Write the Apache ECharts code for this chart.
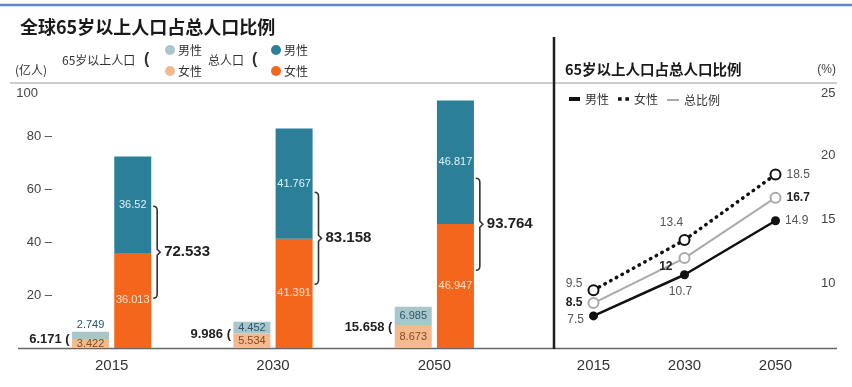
<!DOCTYPE html>
<html>
<head>
<meta charset="utf-8">
<script src="https://cdn.jsdelivr.net/npm/echarts@6/dist/echarts.min.js"></script>
<style>html,body{margin:0;padding:0;background:#fff;}#c{width:852px;height:387px;}</style>
</head>
<body>
<div id="c"></div>
<script>
// ---- data ----
const years = ['2015', '2030', '2050'];
const oldMale = [2.749, 4.452, 6.985];      // 65岁以上人口 男性 (亿人)
const oldFemale = [3.422, 5.534, 8.673];    // 65岁以上人口 女性
const totalMale = [36.52, 41.767, 46.817];  // 总人口 男性
const totalFemale = [36.013, 41.391, 46.947]; // 总人口 女性
const ratioMale = [7.5, 10.7, 14.9];        // 比例 男性 (%)
const ratioFemale = [9.5, 13.4, 18.5];      // 比例 女性
const ratioTotal = [8.5, 12, 16.7];         // 总比例
const leftTicks = [0, 20, 40, 60, 80, 100];
const rightTicks = [5, 10, 15, 20, 25];

const FONT = 'Arial, "Liberation Sans", "Noto Sans CJK SC", sans-serif';
const CJK = '"Noto Sans CJK SC", "Liberation Sans", sans-serif';

const oldSum = years.map((y, i) => +(oldMale[i] + oldFemale[i]).toFixed(3));
const allSum = years.map((y, i) => +(totalMale[i] + totalFemale[i]).toFixed(3));
const annot = years.map((y, i) => [i, oldSum[i], allSum[i]]);

const chart = echarts.init(document.getElementById('c'), null, {renderer: 'canvas'});

const ratioPosMale = [{position: 'left', offset: [0, 4]}, {position: 'bottom', offset: [-4, 1]}, {position: 'right'}];
const ratioPosFemale = [{position: 'left', offset: [0, -6]}, {position: 'top', offset: [-13, 0]}, {position: 'right'}];
const ratioPosTotal = [{position: 'left'}, {position: 'left', offset: [-1, 9]}, {position: 'right'}];

function withLabels(arr, pos) {
  return arr.map((v, i) => ({value: v, label: pos[i]}));
}

const option = {
  animation: false,
  textStyle: {fontFamily: FONT},
  title: {
    text: '全球65岁以上人口占总人口比例',
    left: 15, top: 13,
    textStyle: {fontFamily: CJK, fontSize: 18, fontWeight: 'bold', color: '#1a1a1a'}
  },
  legend: [
    {
      data: ['65岁以上人口男性', '65岁以上人口女性'],
      orient: 'vertical', left: 160, top: 39, itemGap: 9,
      icon: 'circle', itemWidth: 10, itemHeight: 10,
      selectedMode: false,
      formatter: n => n.slice(-2),
      textStyle: {fontFamily: CJK, fontSize: 12, color: '#333', padding: [0, 0, 0, -2]}
    },
    {
      data: ['总人口男性', '总人口女性'],
      orient: 'vertical', left: 266, top: 39, itemGap: 9,
      icon: 'circle', itemWidth: 10, itemHeight: 10,
      selectedMode: false,
      formatter: n => n.slice(-2),
      textStyle: {fontFamily: CJK, fontSize: 12, color: '#333', padding: [0, 0, 0, -2]}
    },
    {
      data: [
        {name: '男性', icon: 'rect', itemStyle: {color: '#111'}},
        {name: '女性', icon: 'path://M0,0h4v4h-4z M8,0h4v4h-4z', itemStyle: {color: '#111'}}
      ],
      left: 564, top: 88, itemWidth: 11, itemHeight: 4, itemGap: 9,
      selectedMode: false,
      textStyle: {fontFamily: CJK, fontSize: 12, color: '#333'}
    },
    {
      data: [{name: '总比例', icon: 'rect', itemStyle: {color: '#aaa'}}],
      left: 662, top: 89, itemWidth: 12, itemHeight: 2,
      selectedMode: false,
      textStyle: {fontFamily: CJK, fontSize: 12, color: '#333'}
    }
  ],
  grid: [
    {left: 31, right: 337, top: 84, bottom: 39},
    {left: 548, right: 31, top: 91, bottom: 39}
  ],
  xAxis: [
    {
      type: 'category', gridIndex: 0, data: years,
      axisLine: {show: false}, axisTick: {show: false},
      axisLabel: {fontSize: 15, color: '#333', margin: 10}
    },
    {
      type: 'category', gridIndex: 1, data: years,
      axisLine: {show: false}, axisTick: {show: false},
      axisLabel: {fontSize: 15, color: '#333', margin: 10}
    }
  ],
  yAxis: [
    {
      type: 'value', gridIndex: 0, min: leftTicks[0], max: leftTicks[leftTicks.length - 1], interval: 20,
      splitLine: {show: false}, axisLine: {show: false}, axisTick: {show: false},
      axisLabel: {
        align: 'right', margin: -21, fontSize: 13, color: '#444',
        formatter: v => v === 0 ? '' : (v === 100 ? '{t|100}' : v + ' –'),
        rich: {t: {fontSize: 13, color: '#444', padding: [18, 14, 0, 0]}}
      }
    },
    {
      type: 'value', gridIndex: 1, position: 'right',
      min: rightTicks[0], max: rightTicks[rightTicks.length - 1], interval: 5,
      splitLine: {show: false}, axisLine: {show: false}, axisTick: {show: false},
      axisLabel: {
        margin: 0, align: 'left', fontSize: 13, color: '#444',
        formatter: v => v === 5 ? '' : (v === 25 ? '{t|25}' : String(v)),
        rich: {t: {fontSize: 13, color: '#444', padding: [5, 0, 0, 0]}}
      }
    }
  ],
  graphic: [
    {type: 'line', shape: {x1: 0, y1: 5, x2: 852, y2: 5}, style: {stroke: '#5b87c0', lineWidth: 2.5}, silent: true},
    {type: 'line', shape: {x1: 10, y1: 83, x2: 837, y2: 83}, style: {stroke: '#bdbdbd', lineWidth: 1.5}, silent: true},
    {type: 'line', shape: {x1: 18, y1: 348.5, x2: 837, y2: 348.5}, style: {stroke: '#666', lineWidth: 1.5}, silent: true},
    {type: 'line', shape: {x1: 554, y1: 37, x2: 554, y2: 349}, style: {stroke: '#1e1e1e', lineWidth: 2.5}, silent: true},
    {type: 'text', x: 15, y: 70, style: {text: '(亿人)', font: '12px ' + CJK, fill: '#333', verticalAlign: 'middle'}},
    {type: 'text', x: 62, y: 60, style: {text: '65岁以上人口', font: '12px ' + CJK, fill: '#333', verticalAlign: 'middle'}},
    {type: 'text', x: 144, y: 60, style: {text: '(', font: 'bold 16px ' + FONT, fill: '#333', verticalAlign: 'middle'}},
    {type: 'text', x: 208, y: 60, style: {text: '总人口', font: '12px ' + CJK, fill: '#333', verticalAlign: 'middle'}},
    {type: 'text', x: 252, y: 60, style: {text: '(', font: 'bold 16px ' + FONT, fill: '#333', verticalAlign: 'middle'}},
    {type: 'text', x: 565, y: 69, style: {text: '65岁以上人口占总人口比例', font: 'bold 14.5px ' + CJK, fill: '#1a1a1a', verticalAlign: 'middle'}},
    {type: 'text', x: 836, y: 70, style: {text: '(%)', font: '12px ' + FONT, fill: '#444', align: 'right', verticalAlign: 'middle'}}
  ],
  series: [
    {
      name: '65岁以上人口女性', type: 'bar', stack: 'old', xAxisIndex: 0, yAxisIndex: 0,
      barWidth: 37, barGap: '14%', data: oldFemale,
      itemStyle: {color: '#f3b98f'},
      label: {show: true, position: 'inside', fontSize: 11, color: '#8c4a1c'}
    },
    {
      name: '65岁以上人口男性', type: 'bar', stack: 'old', xAxisIndex: 0, yAxisIndex: 0,
      barWidth: 37, barGap: '14%',
      data: oldMale.map((v, i) => i === 0 ? {value: v, label: {position: 'top', distance: 1}} : v),
      itemStyle: {color: '#a9c6cb'},
      label: {show: true, position: 'inside', fontSize: 11, color: '#2c5670'}
    },
    {
      name: '总人口女性', type: 'bar', stack: 'all', xAxisIndex: 0, yAxisIndex: 0,
      barWidth: 37, barGap: '14%', data: totalFemale,
      itemStyle: {color: '#f4661b'},
      label: {show: true, position: 'inside', fontSize: 11, color: '#fde3d2'}
    },
    {
      name: '总人口男性', type: 'bar', stack: 'all', xAxisIndex: 0, yAxisIndex: 0,
      barWidth: 37, barGap: '14%', data: totalMale,
      itemStyle: {color: '#2b7f99'},
      label: {show: true, position: 'inside', fontSize: 11, color: '#dff2f7'}
    },
    {
      name: 'annot', type: 'custom', xAxisIndex: 0, yAxisIndex: 0, clip: false, silent: true, z: 5,
      encode: {x: 0, y: 1},
      data: annot,
      renderItem: function (params, api) {
        const idx = api.value(0);
        const pOld = api.coord([idx, api.value(1) / 2]);
        const pAll = api.coord([idx, api.value(2) / 2]);
        const cx = pOld[0];
        const bx = cx + 45.5;
        const ym = pAll[1];
        const y0 = ym - 46, y1 = ym + 46;
        const path = 'M' + (bx - 4) + ',' + y0 + ' Q' + bx + ',' + y0 + ' ' + bx + ',' + (y0 + 4) +
          ' L' + bx + ',' + (ym - 3) + ' L' + (bx + 3) + ',' + ym + ' L' + bx + ',' + (ym + 3) +
          ' L' + bx + ',' + (y1 - 4) + ' Q' + bx + ',' + y1 + ' ' + (bx - 4) + ',' + y1;
        return {
          type: 'group',
          children: [
            {type: 'text', style: {text: api.value(1).toFixed(3) + ' (', x: cx - 42, y: pOld[1],
              align: 'right', verticalAlign: 'middle', font: 'bold 13px ' + FONT, fill: '#222'}},
            {type: 'path', shape: {pathData: path}, style: {stroke: '#333', lineWidth: 1.6, fill: null}},
            {type: 'text', style: {text: api.value(2).toFixed(3), x: bx + 7, y: ym,
              align: 'left', verticalAlign: 'middle', font: 'bold 15px ' + FONT, fill: '#222'}}
          ]
        };
      }
    },
    {
      name: '总比例', type: 'line', xAxisIndex: 1, yAxisIndex: 1, z: 3,
      data: withLabels(ratioTotal, ratioPosTotal),
      lineStyle: {color: '#aaa', width: 2},
      symbol: 'emptyCircle', symbolSize: 10,
      itemStyle: {color: '#aaa', borderWidth: 2},
      label: {show: true, fontSize: 12, fontWeight: 'bold', color: '#222', distance: 5}
    },
    {
      name: '男性', type: 'line', xAxisIndex: 1, yAxisIndex: 1, z: 4,
      data: withLabels(ratioMale, ratioPosMale),
      lineStyle: {color: '#111', width: 2.5},
      symbol: 'circle', symbolSize: 9,
      itemStyle: {color: '#111'},
      label: {show: true, fontSize: 12, color: '#555', distance: 5}
    },
    {
      name: '女性', type: 'line', xAxisIndex: 1, yAxisIndex: 1, z: 5,
      data: withLabels(ratioFemale, ratioPosFemale),
      lineStyle: {color: '#111', width: 3.5, type: [0.5, 6], cap: 'round'},
      symbol: 'emptyCircle', symbolSize: 10,
      itemStyle: {color: '#111', borderWidth: 2.5},
      label: {show: true, fontSize: 12, color: '#555', distance: 5}
    }
  ]
};
chart.setOption(option);
</script>
</body>
</html>
